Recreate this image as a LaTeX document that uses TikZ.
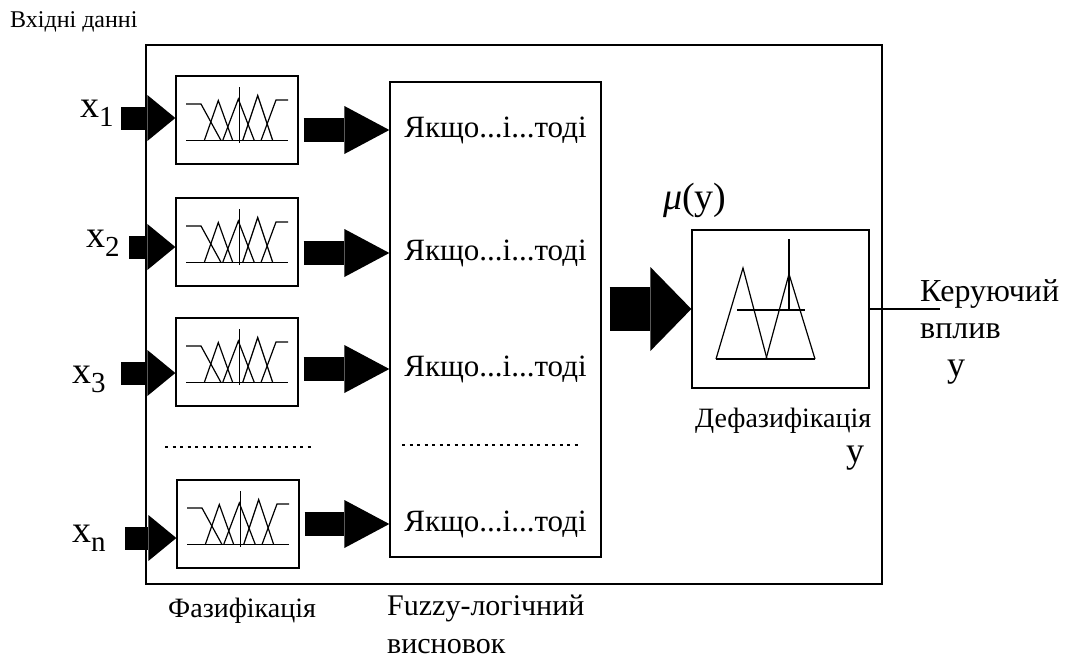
\documentclass[tikz,border=0pt]{standalone}
\usepackage{fontspec}
\setmainfont{Liberation Serif}
\usetikzlibrary{positioning, calc, arrows.meta}

\tikzset{
  frame/.style={draw, line width=1.3pt},
  fzbox/.style={draw, line width=1.3pt, minimum width=122pt, minimum height=88pt, inner sep=0pt},
  mf/.style={line width=1.2pt},
  fatin/.style={line width=23pt, -{Triangle[length=28pt, width=46pt, line width=0pt]}},
  fatout/.style={line width=24pt, -{Triangle[length=45pt, width=48pt, line width=0pt]}},
  fatbig/.style={line width=44pt, -{Triangle[length=41pt, width=84pt, line width=0pt]}},
  dotsep/.style={line width=1.3pt, dash pattern=on 3pt off 4.5pt},
  rule/.style={font=\fontsize{31}{34}\selectfont, inner sep=0pt},
  lbl/.style={font=\fontsize{28}{32}\selectfont, inner sep=0pt, anchor=base west},
  xlab/.style={font=\fontsize{38}{40}\selectfont, inner sep=0pt, anchor=base west},
}
\newcommand\xin[1]{x\raisebox{-9pt}{\fontsize{29}{30}\selectfont #1}}

\begin{document}
\begin{tikzpicture}[x=1pt, y=-1pt]
  \useasboundingbox (0,0) rectangle (1070,659);

  % TOP CAPTION AND OUTER FRAME
  \node[lbl, font=\fontsize{24}{28}\selectfont] (title) at (10,27) {Вхідні данні};
  \draw[frame] (146,45) rectangle (882,584);

  % FUZZIFICATION
  \node[fzbox] (fz1) at (237,120) {};
  \node[fzbox] (fz2) at (237,242) {};
  \node[fzbox] (fz3) at (237,362) {};
  \node[fzbox] (fzn) at (238,524) {};

  % membership functions in every block
  \foreach \i in {1,2,3,n} {
    \begin{scope}[shift={(fz\i.center)}, mf]
      \draw (-51,20.5) -- (51,20.5);
      \draw (-51,-16) -- (-36,-16) -- (-16,20.5);
      \draw (-32.7,20.5) -- (-18.7,-19.5) -- (-4.3,20.5);
      \draw (-14.3,20.5) -- (1.3,-21) -- (17.3,20.5);
      \draw (5.7,20.5) -- (20.7,-24.5) -- (35.7,20.5);
      \draw (51,-20) -- (39,-20) -- (24,20.5);
      \draw (2.3,-33) -- (2.3,23);
    \end{scope}
  }

  % inputs
  \coordinate (in1) at (121,118);
  \coordinate (in2) at (129,247);
  \coordinate (in3) at (121,373);
  \coordinate (inn) at (125,538);
  \node[xlab] (lx1) at (80,117) {\xin{1}};
  \node[xlab] (lx2) at (86,247) {\xin{2}};
  \node[xlab] (lx3) at (72,383) {\xin{3}};
  \node[xlab] (lxn) at (72,542) {\xin{n}};
  \foreach \i in {1,2,3,n}
    \draw[fatin] (in\i) -- (fz\i.west |- in\i);

  \draw[dotsep] (165,447) -- (313,447);
  \node[lbl] (fzcap) at (168,617) {Фазифікація};

  % INFERENCE
  \node[frame, minimum width=211pt, minimum height=475pt] (rules) at (495.5,319.5) {};
  \node[rule] (r1) at (495.5,130) {Якщо...і...тоді};
  \node[rule] (r2) at (495.5,253) {Якщо...і...тоді};
  \node[rule] (r3) at (495.5,369) {Якщо...і...тоді};
  \node[rule] (rn) at (495.5,524) {Якщо...і...тоді};
  \draw[dotsep] (402,445) -- (582,445);
  \foreach \i in {1,2,3,n}
    \draw[fatout] ($(fz\i.east |- r\i)+(5,0)$) -- (rules.west |- r\i);
  \node[lbl, font=\fontsize{30}{34}\selectfont] (infcap) at (387,615) {Fuzzy-логічний};
  \node[lbl, font=\fontsize{30}{34}\selectfont] (infcap2) at (387,653) {висновок};

  % DEFUZZIFICATION
  \node[frame, minimum width=177pt, minimum height=158pt] (dfz) at (780.5,309) {};
  \begin{scope}[shift={(dfz.center)}, mf]
    \draw (-64.5,50) -- (34.5,50);
    \draw (-64.5,50) -- (-37.5,-41) -- (-13.5,50);
    \draw (-14.5,50) -- (8.5,-35) -- (34.5,50);
    \draw (-43.5,1) -- (24.5,1);
    \draw (8.5,-70) -- (8.5,1);
  \end{scope}
  \draw[fatbig] ($(rules.east |- dfz)+(8,0)$) -- (dfz.west);
  \node[lbl, font=\fontsize{38}{40}\selectfont] (mu) at (663,209) {{\itshape μ}(y)};
  \node[lbl] (dfzcap) at (695,427) {Дефазифікація};
  \node[lbl, font=\fontsize{36}{38}\selectfont] (ydfz) at (846,462) {y};

  % output
  \coordinate (out) at (940,311);
  \draw[line width=1.3pt] (dfz.east) -- (dfz.east -| out);
  \node[lbl, font=\fontsize{32}{34}\selectfont] (outcap) at (920,301) {Керуючий};
  \node[lbl, font=\fontsize{32}{34}\selectfont] (outcap2) at (920,338) {вплив};
  \node[lbl, font=\fontsize{36}{38}\selectfont] (yout) at (947,376) {y};
\end{tikzpicture}
\end{document}
